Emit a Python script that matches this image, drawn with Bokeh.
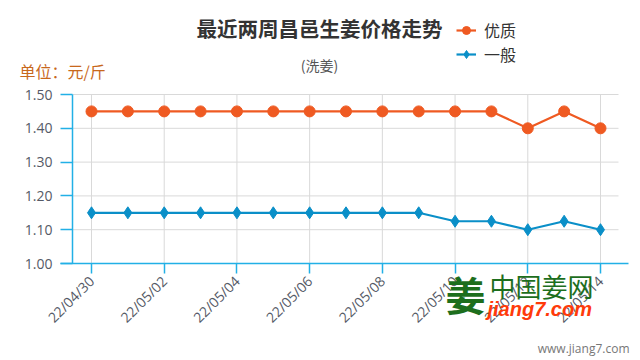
from bokeh.plotting import figure
from bokeh.models import (Range1d, FixedTicker, Label, Legend, LegendItem)
from bokeh.embed import file_html
from bokeh.resources import INLINE
from math import pi

# ---- data ----
dates = ["22/04/30", "22/05/01", "22/05/02", "22/05/03", "22/05/04",
         "22/05/05", "22/05/06", "22/05/07", "22/05/08", "22/05/09",
         "22/05/10", "22/05/11", "22/05/12", "22/05/13", "22/05/14"]
premium = [1.45, 1.45, 1.45, 1.45, 1.45, 1.45, 1.45, 1.45, 1.45, 1.45,
           1.45, 1.45, 1.40, 1.45, 1.40]
general = [1.15, 1.15, 1.15, 1.15, 1.15, 1.15, 1.15, 1.15, 1.15, 1.15,
           1.125, 1.125, 1.10, 1.125, 1.10]
y_ticks = [1.00, 1.10, 1.20, 1.30, 1.40, 1.50]
series_names = ["优质", "一般"]
title_text = "最近两周昌邑生姜价格走势"
subtitle_text = "(洗姜)"
unit_text = "单位：元/斤"

xs = list(range(len(dates)))
x_ticks = xs[::2]

# ---- layout (pixels of the 640x360 canvas) ----
W, H = 640, 360
PX0, PXSTEP = 91.0, 36.357          # pixel of first category, pixels per day
PY_HI, PY_LO = 94.0, 263.0          # pixel rows of 1.50 and 1.00
YMIN, YMAX = 1.0, 1.5
YPP = (YMAX - YMIN) / (PY_LO - PY_HI)


def dx(px):
    return (px - PX0) / PXSTEP


def dy(py):
    return YMIN + (PY_LO - py) * YPP


ORANGE = "#ef5a22"
BLUE = "#0a8fc8"
AXIS_BLUE = "#22b0e6"
GRID = "#d9d9d9"
CJK = "Noto Sans CJK SC"

p = figure(width=W, height=H, output_backend="svg", toolbar_location=None,
           x_range=Range1d(dx(0), dx(W)), y_range=Range1d(dy(H), dy(0)),
           min_border=0, min_border_left=0, min_border_right=0,
           min_border_top=0, min_border_bottom=0)
p.title.visible = False
p.outline_line_color = None
p.background_fill_color = "white"
p.border_fill_color = "white"
p.xgrid.visible = False
p.ygrid.visible = False

# grid lines, limited to the plotting area
x_lo, x_hi = dx(72), dx(618)
p.segment(x0=x_ticks, y0=[YMIN] * len(x_ticks), x1=x_ticks,
          y1=[YMAX] * len(x_ticks), line_color=GRID, line_width=1)
p.segment(x0=[x_lo] * len(y_ticks), y0=y_ticks, x1=[x_hi] * len(y_ticks),
          y1=y_ticks, line_color=GRID, line_width=1)

# axes drawn at fixed positions inside the canvas
p.xaxis.fixed_location = YMIN
p.xaxis.bounds = (dx(60), dx(628))
p.yaxis.fixed_location = x_lo
p.yaxis.bounds = (YMIN, YMAX)
p.xaxis.ticker = FixedTicker(ticks=x_ticks)
p.xaxis.major_label_overrides = {i: dates[i] for i in x_ticks}
p.xaxis.major_label_orientation = pi / 4
p.yaxis.ticker = FixedTicker(ticks=y_ticks)
p.yaxis.major_label_overrides = {t: f"{t:.2f}" for t in y_ticks}
for ax in (p.xaxis, p.yaxis):
    ax.axis_line_color = AXIS_BLUE
    ax.axis_line_width = 1.5
    ax.major_tick_line_color = AXIS_BLUE
    ax.major_tick_line_width = 1.5
    ax.minor_tick_line_color = None
    ax.major_tick_in = 0
    ax.major_label_text_color = "#555a66"
    ax.major_label_text_font = "Open Sans"
p.yaxis.major_tick_out = 12
p.yaxis.major_label_standoff = 8
p.yaxis.major_label_text_font_size = "14px"
p.xaxis.major_tick_out = 10
p.xaxis.major_label_standoff = 5
p.xaxis.major_label_text_font_size = "14px"

# series
l1 = p.line(xs, premium, line_color=ORANGE, line_width=2.2)
s1 = p.scatter(xs, premium, marker="circle", size=11, fill_color=ORANGE,
               line_color=ORANGE)
l2 = p.line(xs, general, line_color=BLUE, line_width=2.2)
s2 = p.scatter(xs, general, marker="diamond", size=12, fill_color=BLUE,
               line_color=BLUE)

legend = Legend(items=[LegendItem(label=series_names[0], renderers=[l1, s1]),
                       LegendItem(label=series_names[1], renderers=[l2, s2])],
                location=(456, H - 66), orientation="vertical",
                padding=0, margin=0, spacing=0, glyph_width=20, glyph_height=20,
                label_standoff=8, border_line_color=None,
                background_fill_alpha=0, label_text_font=CJK,
                label_text_font_size="16px", label_text_color="#333333")
p.add_layout(legend, "center")


def lab(text, px, py, size, color, align="left", style="normal", font=CJK):
    p.add_layout(Label(x=dx(px), y=dy(py), text=text, text_font=font,
                       text_font_size=size, text_color=color,
                       text_align=align, text_baseline="middle",
                       text_font_style=style))


lab(title_text, 319, 27, "20.5px", "#333333", "center", "bold")
lab(subtitle_text, 319, 64, "14px", "#555555", "center")
lab(unit_text, 19, 70, "16px", "#c8681c", "left")

# watermark
lab("姜", 445, 293, "40px", "#1d6e1d", "left", "bold")
lab("中国姜网", 489, 285, "26px", "#1d6e1d", "left", "normal")
lab("jiang7.com", 487, 308, "20px", "#ff3a0a", "left", "bold italic",
    "Liberation Sans")
lab("www.jiang7.com", 629, 348, "12px", "#777777", "right", "normal",
    "Open Sans")

open("out.html", "w").write(file_html(p, INLINE))
